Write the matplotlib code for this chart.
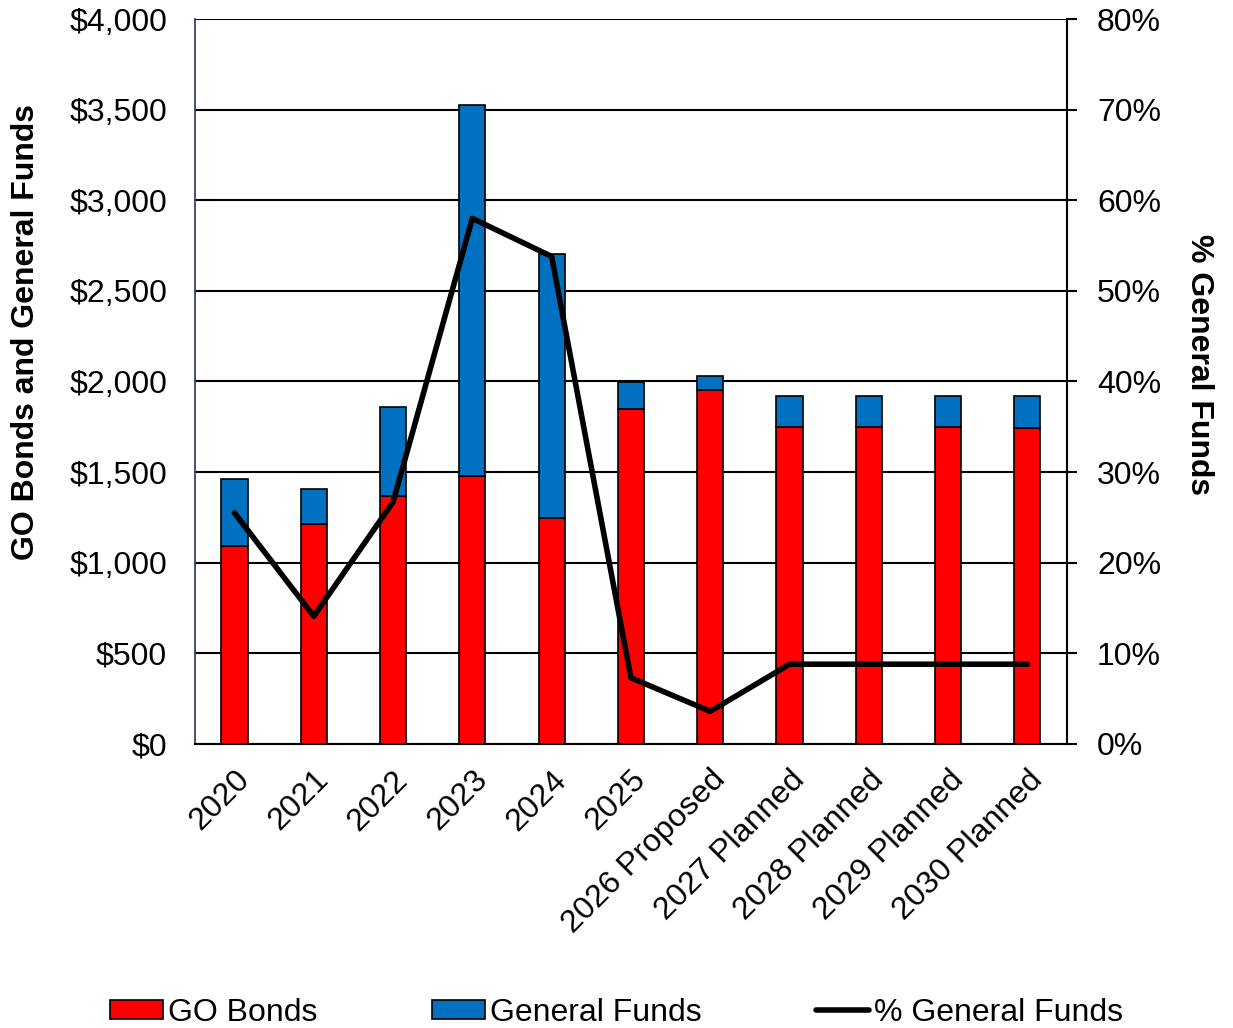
import matplotlib.pyplot as plt
import numpy as np

plt.rcParams['font.family'] = ['Liberation Sans', 'DejaVu Sans']
plt.rcParams['font.size'] = 23

years = ["2020", "2021", "2022", "2023", "2024", "2025", "2026 Proposed",
         "2027 Planned", "2028 Planned", "2029 Planned", "2030 Planned"]
go_bonds = [1092, 1214, 1368, 1479, 1247, 1848, 1953, 1749, 1749, 1749, 1745]
general_funds = [370, 193, 491, 2047, 1456, 149, 77, 171, 171, 171, 175]
pct_general = [25.5, 14.1, 26.7, 58.0, 53.8, 7.3, 3.6, 8.8, 8.8, 8.8, 8.8]

left_ticks = [0, 500, 1000, 1500, 2000, 2500, 3000, 3500, 4000]
right_ticks = [0, 10, 20, 30, 40, 50, 60, 70, 80]

x = np.arange(len(years))

fig = plt.figure(figsize=(12.33, 10.28), dpi=100)
ax = fig.add_axes([0.158, 0.2763, 0.7074, 0.7052])
ax2 = ax.twinx()

# stacked bars
ax.bar(x, go_bonds, width=0.33, color='#FF0000', edgecolor='black', linewidth=1.2,
       label='GO Bonds', zorder=3)
ax.bar(x, general_funds, bottom=go_bonds, width=0.33, color='#0070C0',
       edgecolor='black', linewidth=1.2, label='General Funds', zorder=3)

ax.set_xlim(-0.5, len(years) - 0.5)
ax.set_ylim(0, 4000)
ax.set_yticks(left_ticks)
ax.set_yticklabels([f"${v:,}" for v in left_ticks])
ax.yaxis.grid(True, color='black', linewidth=1.5, zorder=0)
ax.set_axisbelow(True)
ax.tick_params(axis='y', length=0, pad=20)
ax.tick_params(axis='x', length=0, pad=15)
ax.set_xticks(x)
ax.set_xticklabels(years, rotation=45, ha='right', rotation_mode='anchor')
ax.set_ylabel('GO Bonds and General Funds', fontweight='bold', labelpad=20)
ax.yaxis.label.set_y(0.568)

ax.spines['left'].set_color('#1F3864')
ax.spines['left'].set_linewidth(1.2)
ax.spines['bottom'].set_linewidth(1.5)
ax.spines['top'].set_visible(False)
ax.spines['right'].set_visible(False)

# percentage line
ax2.plot(x, pct_general, color='black', linewidth=4.0, solid_capstyle='round',
         solid_joinstyle='round', label='% General Funds', zorder=4)
ax2.set_ylim(0, 80)
ax2.set_yticks(right_ticks)
ax2.set_yticklabels([f"{v}%" for v in right_ticks])
ax2.tick_params(axis='y', direction='out', length=7.5, width=1.5, pad=14)
ax2.set_ylabel('% General Funds', fontweight='bold', rotation=270, labelpad=38)
ax2.yaxis.label.set_y(0.524)
ax2.spines['right'].set_linewidth(1.5)
ax2.spines['top'].set_visible(False)
ax2.spines['left'].set_visible(False)
ax2.spines['bottom'].set_visible(False)

h1, l1 = ax.get_legend_handles_labels()
h2, l2 = ax2.get_legend_handles_labels()
fig.legend(h1 + h2, l1 + l2, loc='center', bbox_to_anchor=(0.5, 0.015), ncol=3,
           frameon=False, handlelength=1.65, handleheight=0.55, handletextpad=0.15,
           columnspacing=3.6, borderpad=0)

fig.savefig('out.png', dpi=100)
